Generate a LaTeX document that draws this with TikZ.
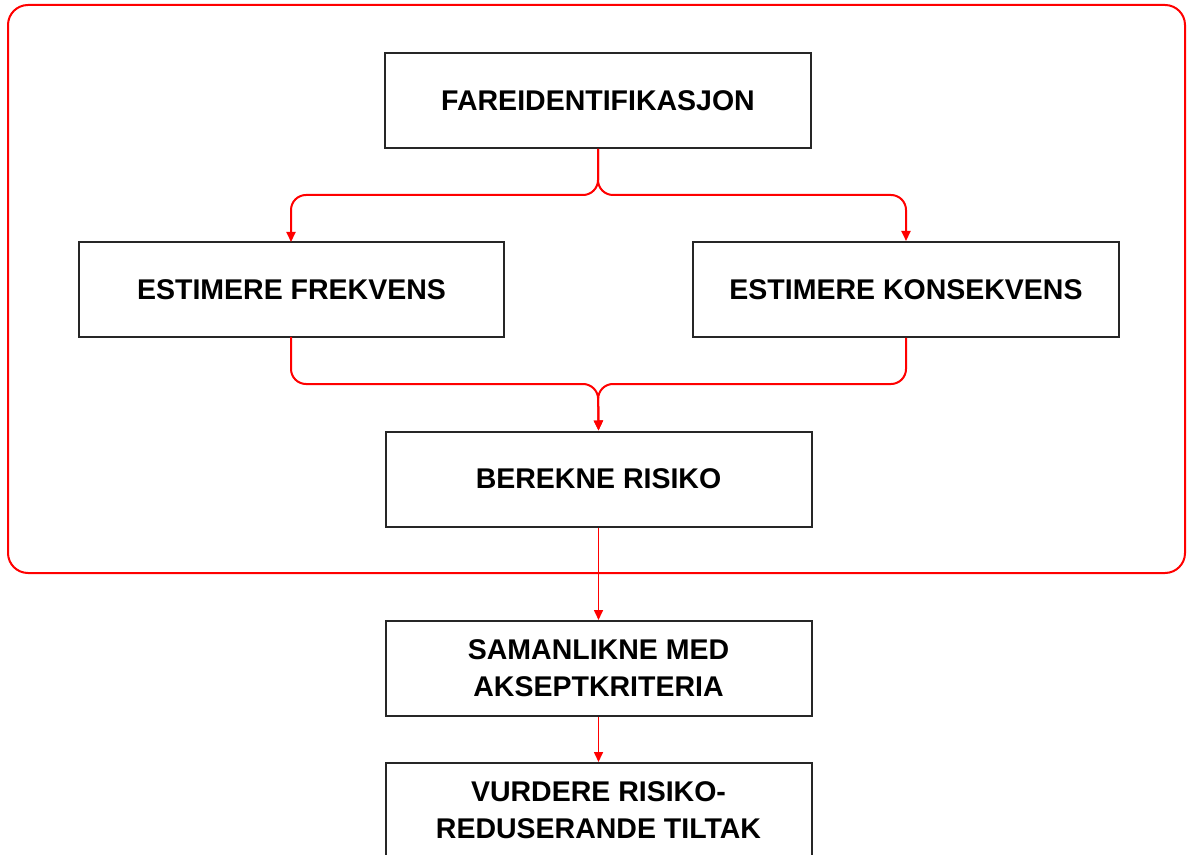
\documentclass[tikz,border=0pt]{standalone}
\usepackage{fontspec}
\setmainfont{Liberation Sans}
\usetikzlibrary{arrows.meta}
\begin{document}
\begin{tikzpicture}[x=0.5pt,y=-0.5pt,
  stepbox/.style={draw=black!85,line width=1pt,fill=white,minimum width=213pt,minimum height=47.5pt,inner sep=0pt,align=center,font=\fontsize{14.25}{18.5}\selectfont\bfseries},
  conn/.style={draw=red,line width=1pt,rounded corners=7.5pt,-{Triangle[length=5pt,width=4.5pt]}},
  conn2/.style={draw=red,line width=0.8pt,-{Triangle[length=5pt,width=4.5pt]}},
  frame/.style={draw=red,line width=1pt,rounded corners=10pt}]
\clip (0,0) rectangle (1187,855);
\useasboundingbox (0,0) rectangle (1187,855);
\fill[white] (0,0) rectangle (1187,855);
\draw[frame] (8,5) rectangle (1185,573);
\node[stepbox] (b1) at (598,100.5) {FAREIDENTIFIKASJON};
\node[stepbox,minimum width=212.5pt] (b2) at (291.5,289.5) {ESTIMERE FREKVENS};
\node[stepbox] (b3) at (906,289.5) {ESTIMERE KONSEKVENS};
\node[stepbox] (b4) at (598.5,479) {BEREKNE RISIKO};
\node[stepbox] (b5) at (598.5,668.5) {SAMANLIKNE MED\\AKSEPTKRITERIA};
\node[stepbox] (b6) at (598.5,810.5) {VURDERE RISIKO-\\REDUSERANDE TILTAK};
\coordinate (fork) at (598,195);
\coordinate (merge) at (598,384);
\draw[conn] (b1.south) -- (fork) -| (291,242);
\draw[conn] (b1.south) -- (fork) -| (b3.north);
\draw[conn] (291,337) |- (merge) -- (b4.north);
\draw[conn] (b3.south) |- (merge) -- (b4.north);
\draw[conn2] (b4.south) -- (b5.north);
\draw[conn2] (b5.south) -- (b6.north);
\end{tikzpicture}
\end{document}
